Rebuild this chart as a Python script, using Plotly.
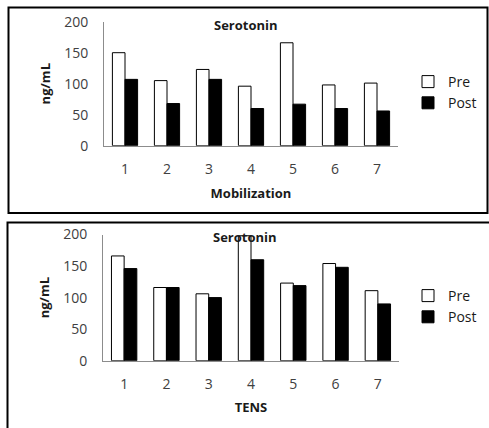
import plotly.graph_objects as go

categories = ["1", "2", "3", "4", "5", "6", "7"]
mob_pre = [150, 105, 123, 96, 166, 98, 101]
mob_post = [107, 68, 107, 60, 67, 60, 56]
tens_pre = [166, 116, 106, 198, 123, 154, 111]
tens_post = [146, 116, 100, 160, 119, 148, 90]
y_ticks = [0, 50, 100, 150, 200]

W, H = 489, 428
FONT = "Open Sans"
TICK_COLOR = "#404040"
AXIS_COLOR = "#8c8c8c"


def px_x(p):
    return p / W


def px_y(p):
    return 1 - p / H


fig = go.Figure()

# Top panel (Mobilization)
fig.add_trace(go.Bar(x=categories, y=mob_pre, name="Pre", xaxis="x", yaxis="y",
                     marker=dict(color="white", line=dict(color="black", width=1)),
                     legend="legend"))
fig.add_trace(go.Bar(x=categories, y=mob_post, name="Post", xaxis="x", yaxis="y",
                     marker=dict(color="black", line=dict(color="black", width=1)),
                     legend="legend"))
# Bottom panel (TENS)
fig.add_trace(go.Bar(x=categories, y=tens_pre, name="Pre", xaxis="x2", yaxis="y2",
                     marker=dict(color="white", line=dict(color="black", width=1)),
                     legend="legend2"))
fig.add_trace(go.Bar(x=categories, y=tens_post, name="Post", xaxis="x2", yaxis="y2",
                     marker=dict(color="black", line=dict(color="black", width=1)),
                     legend="legend2"))

tickfont = dict(family=FONT, size=14, color=TICK_COLOR)
titlefont = dict(family=FONT, size=13, color="#1a1a1a", weight="bold")

xcommon = dict(type="category", showline=True, linecolor=AXIS_COLOR, linewidth=1,
               ticks="", showgrid=False, zeroline=False, tickfont=tickfont,
               ticklabelstandoff=10, automargin=False)
ycommon = dict(range=[0, 200], tickvals=y_ticks, showline=True, linecolor=AXIS_COLOR,
               linewidth=1, ticks="", showgrid=False, zeroline=False, tickfont=tickfont,
               ticklabelstandoff=12, automargin=False)

fig.update_layout(
    width=W, height=H,
    margin=dict(l=0, r=0, t=0, b=0, autoexpand=False),
    paper_bgcolor="white", plot_bgcolor="white",
    barmode="group", bargap=0.4, bargroupgap=0,
    xaxis=dict(domain=[px_x(104), px_x(398)], anchor="y",
               title=dict(text="Mobilization", font=titlefont, standoff=12), **xcommon),
    yaxis=dict(domain=[px_y(145.7), px_y(21.7)], anchor="x",
               title=dict(text="ng/mL", font=titlefont, standoff=10), **ycommon),
    xaxis2=dict(domain=[px_x(103), px_x(399)], anchor="y2",
                title=dict(text="TENS", font=titlefont, standoff=11), **xcommon),
    yaxis2=dict(domain=[px_y(360.7), px_y(234.5)], anchor="x2",
                title=dict(text="ng/mL", font=titlefont, standoff=10), **ycommon),
    legend=dict(x=px_x(408), y=px_y(66), xanchor="left", yanchor="top",
                font=dict(family=FONT, size=14, color="#1a1a1a"),
                bgcolor="rgba(0,0,0,0)", itemwidth=30),
    legend2=dict(x=px_x(408), y=px_y(280), xanchor="left", yanchor="top",
                 font=dict(family=FONT, size=14, color="#1a1a1a"),
                 bgcolor="rgba(0,0,0,0)", itemwidth=30),
    showlegend=True,
)

# Chart titles
for ycen, xcen in [(25, 246), (237, 245)]:
    fig.add_annotation(text="<b>Serotonin</b>", x=px_x(xcen), y=px_y(ycen),
                       xref="paper", yref="paper", showarrow=False,
                       font=dict(family=FONT, size=13, color="#1a1a1a"),
                       xanchor="center", yanchor="middle")

# Panel frames
fig.add_shape(type="rect", xref="paper", yref="paper",
              x0=px_x(8.5), x1=px_x(487.5), y0=px_y(213), y1=px_y(7.5),
              line=dict(color="black", width=2), fillcolor="rgba(0,0,0,0)", layer="below")
fig.add_shape(type="rect", xref="paper", yref="paper",
              x0=px_x(7.5), x1=px_x(500), y0=px_y(440), y1=px_y(222.5),
              line=dict(color="black", width=2), fillcolor="rgba(0,0,0,0)", layer="below")

# remove the default 8px page margin so the figure fills the window exactly
fig.write_html("out.html",
               config={"displayModeBar": False},
               post_script="document.body.style.margin='0';document.body.style.overflow='hidden';")
